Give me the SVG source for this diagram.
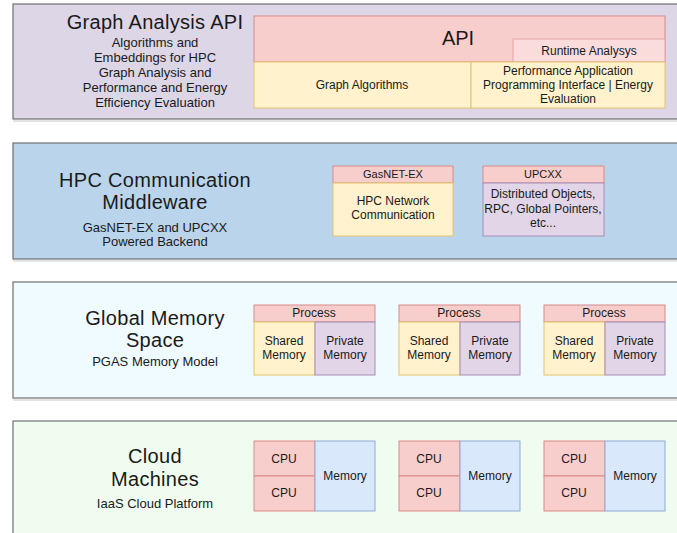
<svg xmlns="http://www.w3.org/2000/svg" width="677" height="533" viewBox="0 0 677 533">
  <style>
    text { font-family: "Liberation Sans", Arial, sans-serif; fill: #1a1a1a; text-anchor: middle; }
    .title { font-size: 20px; letter-spacing: 0.3px; }
    .sub { font-size: 13px; }
    .lbl { font-size: 12px; }
    .hdr { font-size: 11px; }
    .layer { stroke: #6f6f6f; stroke-width: 1.2; }
    .shadow { fill: none; stroke: #c8c8c8; stroke-width: 1; }
    .red { fill: #f8cecc; stroke: #d88a88; stroke-width: 1; }
    .pink { fill: #fadcdd; stroke: #e3a3a3; stroke-width: 1; }
    .yellow { fill: #fff2cc; stroke: #e2c46f; stroke-width: 1; }
    .purple { fill: #e1d5e7; stroke: #a68bb6; stroke-width: 1; }
    .blue { fill: #dae8fc; stroke: #8eaad4; stroke-width: 1; }
  </style>

  <!-- Layer: Graph Analysis API -->
  <g id="layer-api">
    <rect class="layer" x="13" y="4" width="680" height="115" fill="#dcd6e6"/>
    <line class="shadow" x1="13" y1="121" x2="677" y2="121"/>
    <text class="title" x="155" y="29">Graph Analysis API</text>
    <text class="sub" x="155" y="47">Algorithms and</text>
    <text class="sub" x="155" y="62">Embeddings for HPC</text>
    <text class="sub" x="155" y="77">Graph Analysis and</text>
    <text class="sub" x="155" y="92">Performance and Energy</text>
    <text class="sub" x="155" y="107">Efficiency Evaluation</text>
  </g>
  <g id="api">
    <rect class="red" x="254" y="16" width="411" height="46"/>
    <text x="458" y="45" style="font-size:20px">API</text>
  </g>
  <g id="runtime-analysis">
    <rect class="pink" x="513" y="39" width="152" height="23"/>
    <text class="lbl" x="589" y="55">Runtime Analysys</text>
  </g>
  <g id="graph-algorithms">
    <rect class="yellow" x="254" y="62" width="217" height="46"/>
    <text class="lbl" x="362" y="89">Graph Algorithms</text>
  </g>
  <g id="papi-energy">
    <rect class="yellow" x="471" y="62" width="194" height="46"/>
    <text class="lbl" x="568" y="75">Performance Application</text>
    <text class="lbl" x="568" y="89">Programming Interface | Energy</text>
    <text class="lbl" x="568" y="103">Evaluation</text>
  </g>

  <!-- Layer: HPC Communication Middleware -->
  <g id="layer-middleware">
    <rect class="layer" x="13" y="143" width="680" height="116" fill="#bad5eb"/>
    <line class="shadow" x1="13" y1="261" x2="677" y2="261"/>
    <text class="title" x="155" y="187">HPC Communication</text>
    <text class="title" x="155" y="209">Middleware</text>
    <text class="sub" x="155" y="232">GasNET-EX and UPCXX</text>
    <text class="sub" x="155" y="246">Powered Backend</text>
  </g>
  <g id="gasnet-ex">
    <rect class="red" x="333" y="166" width="120" height="17"/>
    <text class="hdr" x="393" y="178">GasNET-EX</text>
    <rect class="yellow" x="333" y="183" width="120" height="53"/>
    <text class="lbl" x="393" y="205">HPC Network</text>
    <text class="lbl" x="393" y="219">Communication</text>
  </g>
  <g id="upcxx">
    <rect class="red" x="483" y="166" width="121" height="17"/>
    <text class="hdr" x="543" y="178">UPCXX</text>
    <rect class="purple" x="483" y="183" width="121" height="53"/>
    <text class="lbl" x="543" y="198">Distributed Objects,</text>
    <text class="lbl" x="543" y="213">RPC, Global Pointers,</text>
    <text class="lbl" x="543" y="227">etc...</text>
  </g>

  <!-- Layer: Global Memory Space -->
  <g id="layer-memory">
    <rect class="layer" x="13" y="282" width="680" height="116" fill="#effbfe"/>
    <line class="shadow" x1="13" y1="400" x2="677" y2="400"/>
    <text class="title" x="155" y="325">Global Memory</text>
    <text class="title" x="155" y="347">Space</text>
    <text class="sub" x="155" y="366">PGAS Memory Model</text>
  </g>
  <g id="process-1">
    <rect class="red" x="254" y="305" width="121" height="17"/>
    <text class="lbl" x="314" y="317">Process</text>
    <rect class="yellow" x="254" y="322" width="61" height="53"/>
    <rect class="purple" x="315" y="322" width="60" height="53"/>
    <text class="lbl" x="284" y="345">Shared</text>
    <text class="lbl" x="284" y="359">Memory</text>
    <text class="lbl" x="345" y="345">Private</text>
    <text class="lbl" x="345" y="359">Memory</text>
  </g>
  <g id="process-2">
    <rect class="red" x="399" y="305" width="121" height="17"/>
    <text class="lbl" x="459" y="317">Process</text>
    <rect class="yellow" x="399" y="322" width="61" height="53"/>
    <rect class="purple" x="460" y="322" width="60" height="53"/>
    <text class="lbl" x="429" y="345">Shared</text>
    <text class="lbl" x="429" y="359">Memory</text>
    <text class="lbl" x="490" y="345">Private</text>
    <text class="lbl" x="490" y="359">Memory</text>
  </g>
  <g id="process-3">
    <rect class="red" x="544" y="305" width="121" height="17"/>
    <text class="lbl" x="604" y="317">Process</text>
    <rect class="yellow" x="544" y="322" width="61" height="53"/>
    <rect class="purple" x="605" y="322" width="60" height="53"/>
    <text class="lbl" x="574" y="345">Shared</text>
    <text class="lbl" x="574" y="359">Memory</text>
    <text class="lbl" x="635" y="345">Private</text>
    <text class="lbl" x="635" y="359">Memory</text>
  </g>

  <!-- Layer: Cloud Machines -->
  <g id="layer-cloud">
    <rect class="layer" x="13" y="421" width="680" height="130" fill="#f1fcf0"/>
    <text class="title" x="155" y="463">Cloud</text>
    <text class="title" x="155" y="486">Machines</text>
    <text class="sub" x="155" y="508">IaaS Cloud Platform</text>
  </g>
  <g id="machine-1">
    <rect class="red" x="254" y="441" width="61" height="35"/>
    <rect class="red" x="254" y="476" width="61" height="35"/>
    <rect class="blue" x="315" y="441" width="60" height="70"/>
    <text class="lbl" x="284" y="463">CPU</text>
    <text class="lbl" x="284" y="497">CPU</text>
    <text class="lbl" x="345" y="480">Memory</text>
  </g>
  <g id="machine-2">
    <rect class="red" x="399" y="441" width="61" height="35"/>
    <rect class="red" x="399" y="476" width="61" height="35"/>
    <rect class="blue" x="460" y="441" width="60" height="70"/>
    <text class="lbl" x="429" y="463">CPU</text>
    <text class="lbl" x="429" y="497">CPU</text>
    <text class="lbl" x="490" y="480">Memory</text>
  </g>
  <g id="machine-3">
    <rect class="red" x="544" y="441" width="61" height="35"/>
    <rect class="red" x="544" y="476" width="61" height="35"/>
    <rect class="blue" x="605" y="441" width="60" height="70"/>
    <text class="lbl" x="574" y="463">CPU</text>
    <text class="lbl" x="574" y="497">CPU</text>
    <text class="lbl" x="635" y="480">Memory</text>
  </g>

  <!-- no connectors between the layers -->
  <g id="connectors"/>
</svg>
